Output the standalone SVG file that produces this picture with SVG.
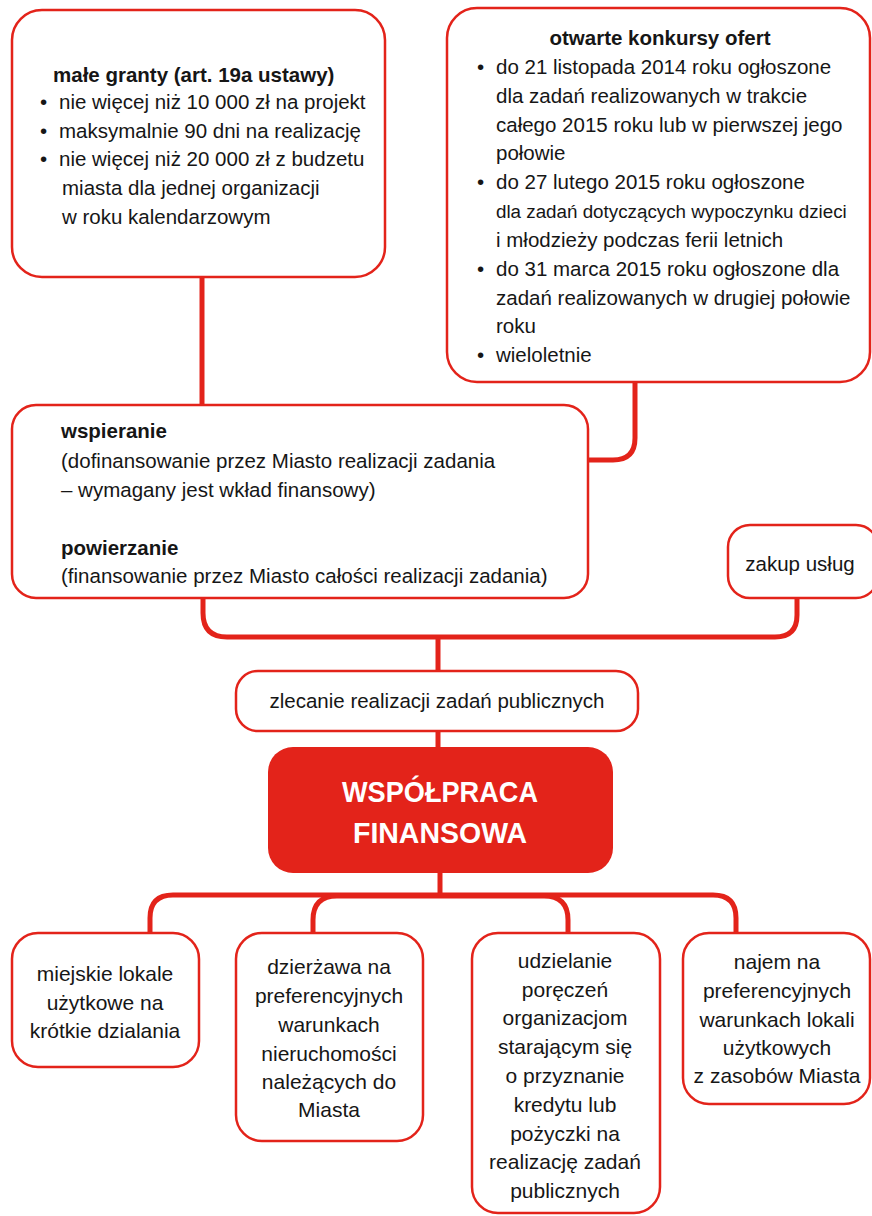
<svg xmlns="http://www.w3.org/2000/svg" width="872" height="1216" viewBox="0 0 872 1216">
<style>
.box{fill:#fff;stroke:#e3231a;stroke-width:2.5}
.main{fill:#e3231a;stroke:none}
.con{fill:none;stroke:#e3231a;stroke-width:5;stroke-linecap:butt}
text{font-family:"Liberation Sans",Arial,sans-serif;fill:#161616}
.t{font-size:20.5px}
.b{font-size:20.5px;font-weight:bold}
.c{text-anchor:middle}
.s{font-size:21px;text-anchor:middle}
.w{font-size:30px;font-weight:bold;fill:#fff;text-anchor:middle}
</style>
<g id="connectors">
<path class="con" d="M202,277 V405"/>
<path class="con" d="M635,382 V438 Q635,460 613,460 H588"/>
<path class="con" d="M203,598 V613 Q203,637 227,637 H775 Q797,637 797,615 V598"/>
<path class="con" d="M438,637 V671"/>
<path class="con" d="M438,731 V747"/>
<path class="con" d="M440,873 V895"/>
<path class="con" d="M150,933 V918 Q150,895 173,895 H713 Q736,895 736,918 V933"/>
<path class="con" d="M313,933 V920 Q313,896 337,896 H544 Q568,896 568,920 V933"/>
</g>
<g id="male-granty">
<rect class="box" x="12" y="10" width="373" height="267" rx="30"/>
<text class="b" x="53" y="82">małe granty (art. 19a ustawy)</text>
<text class="t" x="40" y="109">•</text><text class="t" x="59" y="109">nie więcej niż 10 000 zł na projekt</text>
<text class="t" x="40" y="138">•</text><text class="t" x="59" y="138">maksymalnie 90 dni na realizację</text>
<text class="t" x="40" y="166">•</text><text class="t" x="59" y="166">nie więcej niż 20 000 zł z budzetu</text>
<text class="t" x="62" y="195">miasta dla jednej organizacji</text>
<text class="t" x="62" y="224">w roku kalendarzowym</text>
</g>
<g id="otwarte-konkursy">
<rect class="box" x="447" y="8" width="423" height="374" rx="30"/>
<text class="b c" x="660" y="45">otwarte konkursy ofert</text>
<text class="t" x="477" y="74">•</text><text class="t" x="496" y="74">do 21 listopada 2014 roku ogłoszone</text>
<text class="t" x="496" y="103">dla zadań realizowanych w trakcie</text>
<text class="t" x="496" y="132">całego 2015 roku lub w pierwszej jego</text>
<text class="t" x="496" y="160">połowie</text>
<text class="t" x="477" y="189">•</text><text class="t" x="496" y="189">do 27 lutego 2015 roku ogłoszone</text>
<text x="496" y="218" style="font-size:18.8px">dla zadań dotyczących wypoczynku dzieci</text>
<text class="t" x="496" y="247">i młodzieży podczas ferii letnich</text>
<text class="t" x="477" y="276">•</text><text class="t" x="496" y="276">do 31 marca 2015 roku ogłoszone dla</text>
<text class="t" x="496" y="305">zadań realizowanych w drugiej połowie</text>
<text class="t" x="496" y="333">roku</text>
<text class="t" x="477" y="362">•</text><text class="t" x="496" y="362">wieloletnie</text>
</g>
<g id="wspieranie">
<rect class="box" x="12" y="405" width="576" height="193" rx="24"/>
<text class="b" x="61" y="438">wspieranie</text>
<text class="t" x="61" y="468">(dofinansowanie przez Miasto realizacji zadania</text>
<text class="t" x="61" y="497">– wymagany jest wkład finansowy)</text>
<text class="b" x="61" y="555">powierzanie</text>
<text class="t" x="61" y="583">(finansowanie przez Miasto całości realizacji zadania)</text>
</g>
<g id="zakup-uslug">
<rect class="box" x="728" y="525" width="150" height="73" rx="22"/>
<text class="t c" x="800" y="571">zakup usług</text>
</g>
<g id="zlecanie">
<rect class="box" x="236" y="671" width="402" height="60" rx="22"/>
<text class="t c" x="437" y="708">zlecanie realizacji zadań publicznych</text>
</g>
<g id="wspolpraca">
<rect class="main" x="268" y="747" width="345" height="126" rx="25"/>
<text class="w" x="440" y="802" textLength="196" lengthAdjust="spacingAndGlyphs">WSPÓŁPRACA</text>
<text class="w" x="440" y="843" textLength="174" lengthAdjust="spacingAndGlyphs">FINANSOWA</text>
</g>
<g id="miejskie-lokale">
<rect class="box" x="12" y="933" width="187" height="134" rx="26"/>
<text class="s" x="105" y="981">miejskie lokale</text>
<text class="s" x="105" y="1010">użytkowe na</text>
<text class="s" x="105" y="1038">krótkie dzialania</text>
</g>
<g id="dzierzawa">
<rect class="box" x="236" y="933" width="187" height="208" rx="26"/>
<text class="s" x="329" y="974">dzierżawa na</text>
<text class="s" x="329" y="1003">preferencyjnych</text>
<text class="s" x="329" y="1032">warunkach</text>
<text class="s" x="329" y="1061">nieruchomości</text>
<text class="s" x="329" y="1089">należących do</text>
<text class="s" x="329" y="1117">Miasta</text>
</g>
<g id="udzielanie">
<rect class="box" x="472" y="933" width="188" height="280" rx="26"/>
<text class="s" x="565" y="968">udzielanie</text>
<text class="s" x="565" y="997">poręczeń</text>
<text class="s" x="565" y="1025">organizacjom</text>
<text class="s" x="565" y="1054">starającym się</text>
<text class="s" x="565" y="1083">o przyznanie</text>
<text class="s" x="565" y="1112">kredytu lub</text>
<text class="s" x="565" y="1141">pożyczki na</text>
<text class="s" x="565" y="1169">realizację zadań</text>
<text class="s" x="565" y="1198">publicznych</text>
</g>
<g id="najem">
<rect class="box" x="683" y="933" width="187" height="171" rx="26"/>
<text class="s" x="777" y="969">najem na</text>
<text class="s" x="777" y="998">preferencyjnych</text>
<text class="s" x="777" y="1027">warunkach lokali</text>
<text class="s" x="777" y="1055">użytkowych</text>
<text class="s" x="777" y="1083">z zasobów Miasta</text>
</g>
</svg>
